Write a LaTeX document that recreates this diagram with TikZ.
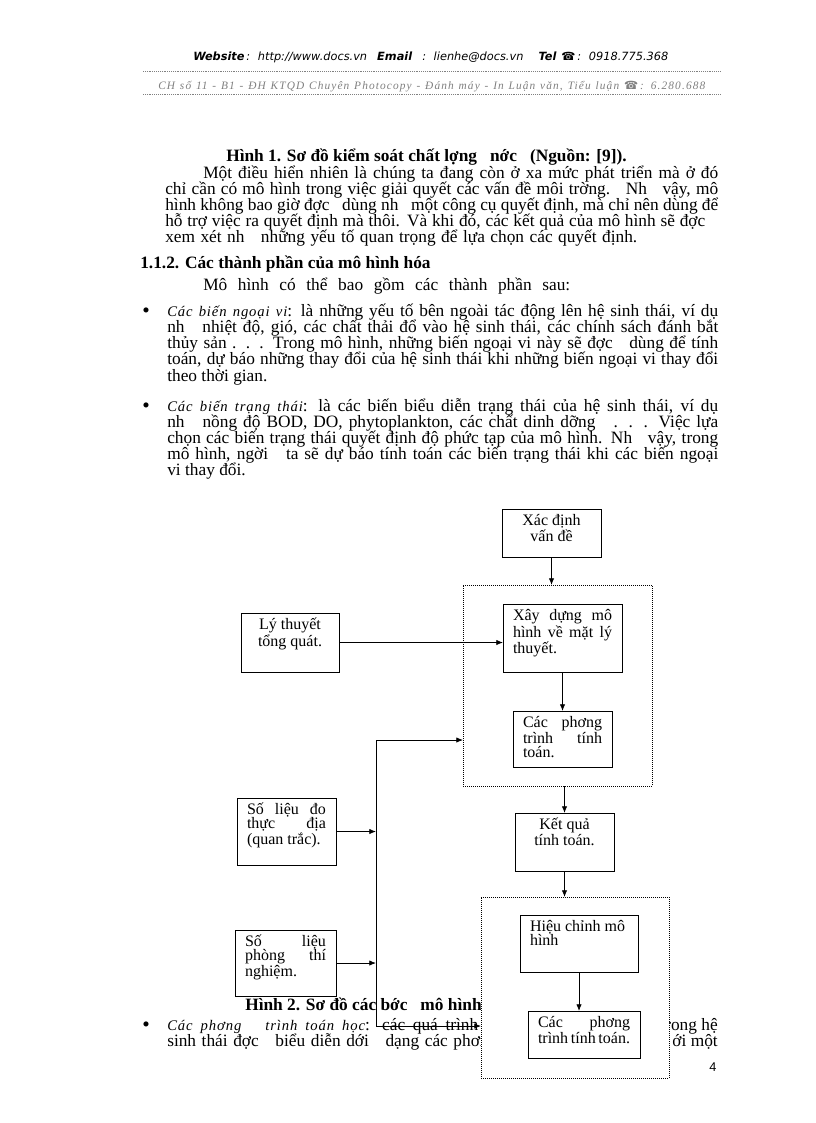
\documentclass[tikz,border=0pt]{standalone}
\usepackage{fontspec}
\setmainfont{Liberation Serif}
\newfontfamily\hdrfont{DejaVu Sans}
\newfontfamily\shopfont[LetterSpace=10]{Liberation Serif}
\newfontfamily\spacedfont[LetterSpace=6]{Liberation Serif}
\newfontfamily\numfont{Liberation Sans}
\usetikzlibrary{arrows.meta,positioning}

\newcommand{\cellbox}[3]{\parbox[t][#2][t]{#1}{\rule{0pt}{12.5pt}#3}}
\newcommand{\fillline}[1]{\makebox[\linewidth][s]{#1}}
\newcommand{\termtext}[1]{{\spacedfont\itshape\fontsize{11}{13}\selectfont #1}}

\tikzset{
  textline/.style={anchor=base west,inner sep=0pt},
  boldline/.style={textline,font=\fontsize{13}{13}\selectfont\bfseries},
  bulletdot/.style={textline,font=\fontsize{16}{16}\selectfont},
  flowbox/.style={draw,line width=0.6pt,fill=white,anchor=north west,inner xsep=7.5pt,inner ysep=0pt,outer sep=0pt,font=\fontsize{12}{10.5}\selectfont},
  groupbox/.style={draw,densely dotted,line width=0.5pt,anchor=north west,inner sep=0pt,outer sep=0pt},
  flowarrow/.style={line width=0.6pt,-{Latex[length=5pt,width=4pt]}}
}

\begin{document}
\begin{tikzpicture}[x=0.75pt,y=-0.75pt,font=\fontsize{13}{13}\selectfont]
\fill[white] (0,0) rectangle (816,1123);
\useasboundingbox (0,0) rectangle (816,1123);

% header
\node[textline,font=\hdrfont\itshape\fontsize{8.5}{10}\selectfont] (web) at (193,61) {\makebox[356.25pt][s]{{\bfseries Website}\,: http://www.docs.vn\ \ {\bfseries Email}\ \ : lienhe@docs.vn\ \ \ {\bfseries Tel} ☎\,: 0918.775.368}};
\draw[gray,densely dotted] (143,71) -- (720,71);
\node[textline,text=gray,font=\shopfont\itshape\fontsize{8.5}{10}\selectfont] (shop) at (158,90) {\makebox[410.25pt][s]{CH số 11 - B1 - ĐH KTQD Chuyên Photocopy - Đánh máy - In Luận văn, Tiểu luận {\hdrfont\upshape ☎}\,: 6.280.688}};
\draw[gray,densely dotted] (143,94) -- (720,94);

% text above the chart
\node[boldline] (fig1) at (226,162) {Hình 1. Sơ đồ kiểm soát chất lợng\ \ \ nớc\ \ \ (Nguồn: [9]).};
\node[textline] (par1) at (203,179) {\makebox[386.25pt][s]{Một điều hiển nhiên là chúng ta đang còn ở xa mức phát triển mà ở đó}};
\node[textline] (par2) at (165,195) {\makebox[414.75pt][s]{chỉ cần có mô hình trong việc giải quyết các vấn đề môi trờng.\ \ \ Nh\ \ \ vậy, mô}};
\node[textline] (par3) at (165,211) {\makebox[414.75pt][s]{hình không bao giờ đợc\ \ \ dùng nh\ \ \ một công cụ quyết định, mà chỉ nên dùng để}};
\node[textline] (par4) at (165,227) {\makebox[405pt][s]{hỗ trợ việc ra quyết định mà thôi. Và khi đó, các kết quả của mô hình sẽ đợc}};
\node[textline] (par5) at (165,243) {\makebox[354pt][s]{xem xét nh\ \ \ những yếu tố quan trọng để lựa chọn các quyết định.}};

\node[boldline] (sec) at (140,268) {1.1.2. Các thành phần của mô hình hóa};
\node[textline] (intro) at (203,290) {\makebox[275.25pt][s]{Mô hình có thể bao gồm các thành phần sau:}};

\node[bulletdot] (dot1) at (142,317) {•};
\node[textline] (ext1) at (167,316) {\makebox[413.25pt][s]{\termtext{Các biến ngoại vi}: là những yếu tố bên ngoài tác động lên hệ sinh thái, ví dụ}};
\node[textline] (ext2) at (167,332) {\makebox[413.25pt][s]{nh\ \ \ nhiệt độ, gió, các chất thải đổ vào hệ sinh thái, các chính sách đánh bắt}};
\node[textline] (ext3) at (167,348) {\makebox[413.25pt][s]{thủy sản . . . Trong mô hình, những biến ngoại vi này sẽ đợc\ \ \ dùng để tính}};
\node[textline] (ext4) at (167,364) {\makebox[413.25pt][s]{toán, dự báo những thay đổi của hệ sinh thái khi những biến ngoại vi thay đổi}};
\node[textline] (ext5) at (167,381) {theo thời gian.};

\node[bulletdot] (dot2) at (142,412) {•};
\node[textline] (st1) at (167,411) {\makebox[413.25pt][s]{\termtext{Các biến trạng thái}: là các biến biểu diễn trạng thái của hệ sinh thái, ví dụ}};
\node[textline] (st2) at (167,427) {\makebox[413.25pt][s]{nh\ \ \ nồng độ BOD, DO, phytoplankton, các chất dinh dỡng\ \ \ . . . Việc lựa}};
\node[textline] (st3) at (167,443) {\makebox[413.25pt][s]{chọn các biến trạng thái quyết định độ phức tạp của mô hình. Nh\ \ \ vậy, trong}};
\node[textline] (st4) at (167,459) {\makebox[413.25pt][s]{mô hình, ngời\ \ \ ta sẽ dự báo tính toán các biến trạng thái khi các biến ngoại}};
\node[textline] (st5) at (167,475) {vi thay đổi.};

% text under the chart
\node[boldline] (fig2) at (245,1010) {Hình 2. Sơ đồ các bớc\ \ \ mô hình};
\node[bulletdot] (dot3) at (142,1031) {•};
\node[textline] (eq1) at (167,1030) {\makebox[233.25pt][s]{\termtext{Các phơng\ \ \ trình toán học}: các quá trình}};
\node[textline] (eq2) at (167,1046) {\makebox[247.5pt][s]{sinh thái đợc\ \ \ biểu diễn dới\ \ \ dạng các phơng}};
\node[anchor=base east,inner sep=0pt] (eq1r) at (718,1030) {trong hệ};
\node[anchor=base east,inner sep=0pt] (eq2r) at (718,1046) {ới một};
\node[anchor=base,inner sep=0pt,font=\numfont\fontsize{9.5}{10}\selectfont] (pageno) at (713,1071) {4};

% chart
\node[flowbox] (define) at (502,509) {\cellbox{59.25pt}{36pt}{\centering Xác định\\vấn đề}};
\node[groupbox,minimum width=141.75pt,minimum height=150.75pt] (build) at (463,585) {};
\node[flowbox] (theory) at (503,604) {\cellbox{74.25pt}{51pt}{\fillline{Xây dựng mô}\\\fillline{hình về mặt lý}\\thuyết.}};
\node[flowbox] (general) at (241,613) {\cellbox{58.5pt}{44.25pt}{\centering Lý thuyết\\tổng quát.}};
\node[flowbox] (equations) at (513,711) {\cellbox{59.25pt}{42pt}{\fillline{Các phơng}\\\fillline{trình tính}\\toán.}};
\node[flowbox] (field) at (237,798) {\cellbox{59.25pt}{50.25pt}{\fillline{Số liệu đo}\\\fillline{thực địa}\\(quan trắc).}};
\node[flowbox] (result) at (515,813) {\cellbox{59.25pt}{43.5pt}{\centering Kết quả\\tính toán.}};
\node[flowbox] (lab) at (235,930) {\cellbox{60.75pt}{49.5pt}{\fillline{Số liệu}\\\fillline{phòng thí}\\nghiệm.}};

\draw[flowarrow] (define.south) -- (define.south |- build.north);
\draw[flowarrow] (general.east) -- (general.east -| theory.west);
\draw[flowarrow] (theory.south) -- (equations.north);
\draw[flowarrow] (result.north |- build.south) -- (result.north);

% calibration box covers the text below it
\node[groupbox,fill=white,minimum width=141pt,minimum height=135.75pt] (calib) at (481,897) {};
\node[flowbox] (adjust) at (520,915) {\cellbox{73.5pt}{42.75pt}{Hiệu chỉnh mô\\hình}};
\node[flowbox] (recalc) at (528,1011) {\cellbox{69pt}{35.25pt}{\fillline{Các phơng}\\trình tính toán.}};

\draw[flowarrow] (result.south) -- (result.south |- calib.north);
\draw[flowarrow] (adjust.south) -- (adjust.south |- recalc.north);

\coordinate (bustop) at (376,740);
\coordinate (busbot) at (376,1026);
\draw[line width=0.6pt] (bustop) -- (busbot);
\draw[flowarrow] (field.east) -- (field.east -| bustop);
\draw[flowarrow] (lab.east) -- (lab.east -| bustop);
\draw[flowarrow] (bustop) -- (bustop -| build.west);
\draw[flowarrow] (busbot) -- (busbot -| calib.west);
\end{tikzpicture}
\end{document}
